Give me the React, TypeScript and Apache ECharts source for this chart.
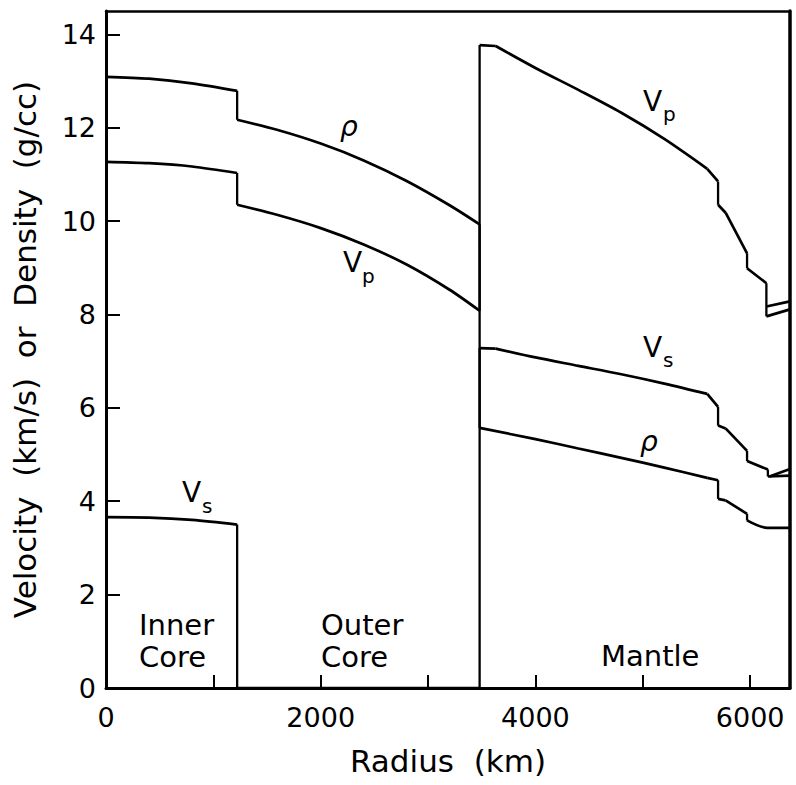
import React, { useEffect, useRef } from "react";
import * as echarts from "echarts";

// Radius (km) / value pairs (vertical jumps are repeated radii)
const rhoRadius = [0, 400, 800, 1221.5, 1221.5, 1600, 2000, 2400, 2800, 3200, 3480, 3480, 4000, 4400, 4800, 5200, 5600, 5701, 5701, 5771, 5971, 5971, 6160, 6371];
const rhoValue = [13.09, 13.05, 12.95, 12.79, 12.17, 11.95, 11.66, 11.30, 10.86, 10.34, 9.93, 5.57, 5.33, 5.13, 4.93, 4.72, 4.50, 4.45, 4.05, 4.02, 3.73, 3.59, 3.43, 3.43];

const vpRadius = [0, 400, 800, 1221.5, 1221.5, 1600, 2000, 2400, 2800, 3200, 3480, 3480, 3630, 4000, 4400, 4800, 5200, 5600, 5701, 5701, 5771, 5971, 5971, 6151, 6151, 6371];
const vpValue = [11.27, 11.24, 11.17, 11.03, 10.35, 10.13, 9.85, 9.50, 9.07, 8.53, 8.08, 13.77, 13.75, 13.28, 12.81, 12.32, 11.76, 11.12, 10.85, 10.35, 10.18, 9.31, 8.99, 8.67, 7.96, 8.11];

const vphRadius = [6151, 6371];
const vphValue = [8.17, 8.28];

const vsRadius = [0, 400, 800, 1221.5, 1221.5, 3480, 3480, 3630, 4000, 4400, 4800, 5200, 5600, 5701, 5701, 5771, 5971, 5971, 6165, 6165, 6371];
const vsValue = [3.66, 3.65, 3.60, 3.50, 0, 0, 7.28, 7.27, 7.08, 6.90, 6.72, 6.52, 6.30, 6.02, 5.62, 5.56, 5.08, 4.86, 4.68, 4.53, 4.55];

const vshRadius = [6180, 6371];
const vshValue = [4.53, 4.69];

// layer boundaries (km): curves are smooth inside a layer, kinked at its edges
const layerBoundaries = [1221.5, 3480, 3630, 5600, 5701, 5771, 5971, 6151];

const xTicks = [0, 2000, 4000, 6000];
const yTicks = [0, 2, 4, 6, 8, 10, 12, 14];

const FONT = "DejaVu Sans";

function profileSeries(name: string, xs: number[], ys: number[]) {
  const out: any[] = [];
  const base = {
    type: "line",
    showSymbol: false,
    symbol: "none",
    clip: true,
    lineStyle: { color: "#000", width: 2.7 },
  };
  let run: number[][] = [[xs[0], ys[0]]];
  const flush = () => {
    if (run.length >= 2) {
      out.push({ ...base, name, data: run, smooth: run.length > 2 ? 0.3 : false });
    }
  };
  for (let i = 1; i < xs.length; i++) {
    if (xs[i] === xs[i - 1]) {
      flush();
      out.push({
        ...base,
        name: name + "-jump",
        data: [[xs[i - 1], ys[i - 1]], [xs[i], ys[i]]],
        lineStyle: { color: "#000", width: 2.3 },
      });
      run = [[xs[i], ys[i]]];
    } else {
      run.push([xs[i], ys[i]]);
      if (layerBoundaries.includes(xs[i]) && xs[i + 1] !== xs[i]) {
        flush();
        run = [[xs[i], ys[i]]];
      }
    }
  }
  flush();
  return out;
}

export default function App() {
  const ref = useRef<HTMLDivElement>(null);
  useEffect(() => {
    document.body.style.margin = "0";
    const chart = echarts.init(ref.current!, null, { renderer: "svg" });
    const txt = (text: string, x: number, y: number, size: number, italic = false) => ({
      type: "text",
      x,
      y,
      style: {
        text,
        fontSize: size,
        fontFamily: FONT,
        fontStyle: italic ? "italic" : "normal",
        fill: "#000",
        textAlign: "left",
        textVerticalAlign: "middle",
      },
    });
    chart.setOption({
      animation: false,
      backgroundColor: "#fff",
      grid: { left: 106, right: 6, top: 11, bottom: 97 },
      xAxis: [
        {
          type: "value",
          min: 0,
          max: 6371,
          interval: 1000,
          name: "Radius  (km)",
          nameLocation: "middle",
          nameGap: 57,
          nameTextStyle: { fontFamily: FONT, fontSize: 31, color: "#000" },
          axisLine: { onZero: false, lineStyle: { color: "#000", width: 3 } },
          axisTick: { inside: true, length: 13, lineStyle: { color: "#000", width: 2 } },
          axisLabel: {
            margin: 16,
            fontFamily: FONT,
            fontSize: 27,
            color: "#000",
            showMaxLabel: false,
            formatter: (v: number) => (xTicks.includes(v) ? String(v) : ""),
          },
          splitLine: { show: false },
        },
        {
          type: "value",
          position: "top",
          min: 0,
          max: 6371,
          axisLine: { onZero: false, lineStyle: { color: "#000", width: 2.5 } },
          axisTick: { show: false },
          axisLabel: { show: false },
          splitLine: { show: false },
        },
      ],
      yAxis: [
        {
          type: "value",
          min: 0,
          max: 14.5,
          interval: 2,
          name: "Velocity  (km/s)  or  Density  (g/cc)",
          nameLocation: "middle",
          nameGap: 66,
          nameTextStyle: { fontFamily: FONT, fontSize: 31, color: "#000" },
          axisLine: { onZero: false, lineStyle: { color: "#000", width: 3 } },
          axisTick: { inside: true, length: 14, lineStyle: { color: "#000", width: 2 } },
          axisLabel: {
            margin: 10,
            fontFamily: FONT,
            fontSize: 27,
            color: "#000",
            showMaxLabel: false,
            formatter: (v: number) => (yTicks.includes(v) ? String(v) : ""),
          },
          splitLine: { show: false },
        },
        {
          type: "value",
          position: "right",
          min: 0,
          max: 14.5,
          axisLine: { onZero: false, lineStyle: { color: "#000", width: 3.5 } },
          axisTick: { show: false },
          axisLabel: { show: false },
          splitLine: { show: false },
        },
      ],
      series: [
        ...profileSeries("rho", rhoRadius, rhoValue),
        ...profileSeries("Vp", vpRadius, vpValue),
        ...profileSeries("Vph", vphRadius, vphValue),
        ...profileSeries("Vs", vsRadius, vsValue),
        ...profileSeries("Vsh", vshRadius, vshValue),
      ],
      graphic: [
        txt("ρ", 340, 126, 28, true),
        txt("V", 343, 262, 28),
        txt("p", 362, 276, 20),
        txt("V", 182, 492, 28),
        txt("s", 202, 506, 20),
        txt("V", 643, 101, 28),
        txt("p", 663, 114, 20),
        txt("V", 643, 347, 28),
        txt("s", 663, 360, 20),
        txt("ρ", 640, 441, 28, true),
        txt("Inner", 139, 625, 29),
        txt("Core", 139, 657, 29),
        txt("Outer", 321, 625, 29),
        txt("Core", 321, 657, 29),
        txt("Mantle", 601, 656, 29),
      ],
    });
    return () => chart.dispose();
  }, []);
  return (
    <div
      ref={ref}
      style={{ position: "absolute", left: 0, top: 0, width: 796, height: 785 }}
    />
  );
}
